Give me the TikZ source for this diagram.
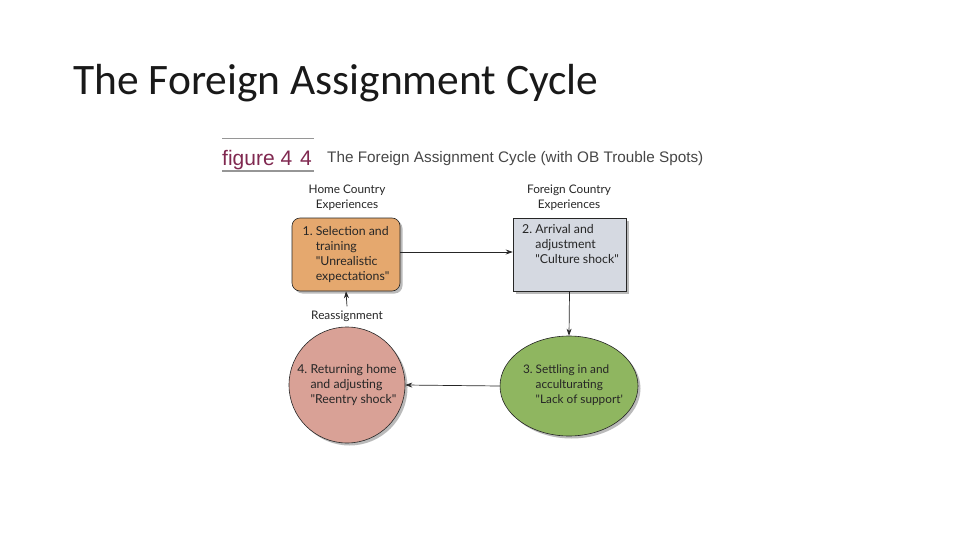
\documentclass[tikz,border=0pt]{standalone}
\usepackage{fontspec}
\setmainfont{Carlito}
\newfontfamily\figfont{Lato}
\newfontfamily\headfont{Liberation Sans}
\usetikzlibrary{arrows.meta,shapes.geometric,shadows}
\definecolor{boxorange}{RGB}{229,168,110}
\definecolor{boxgray}{RGB}{213,217,225}
\definecolor{ellgreen}{RGB}{143,182,96}
\definecolor{circpink}{RGB}{217,161,150}
\definecolor{figmaroon}{RGB}{128,40,80}
\definecolor{rulegray}{RGB}{150,150,150}
\definecolor{headgray}{RGB}{70,70,70}
\tikzset{
  shape base/.style={draw=black!85, line width=0.6pt,
    drop shadow={shadow xshift=2.5pt, shadow yshift=-2.5pt, opacity=0.45, fill=black!60},
    font=\figfont\fontsize{12.3}{15}\selectfont, text=black!85, inner sep=0pt},
  stagebox/.style={shape base, rectangle, minimum width=108pt, minimum height=73pt},
  stageell/.style={shape base, ellipse, minimum width=138pt, minimum height=100pt},
  stagecirc/.style={shape base, circle, minimum size=116pt},
  stagetext/.style={inner sep=0pt, font=\figfont\fontsize{12.3}{15}\selectfont, text=black!85},
  caption/.style={font=\figfont\fontsize{11.8}{15}\selectfont, text=black!85, align=center, inner sep=0pt},
  flow/.style={draw=black!85, line width=0.7pt, -{Stealth[length=7pt,width=5pt]}},
}
\begin{document}
\begin{tikzpicture}[x=1pt,y=-1pt]
\useasboundingbox (0,0) rectangle (960,540);
% slide title
\node[anchor=base west, inner sep=0pt, font=\fontsize{43.5}{50}\selectfont, text=black!90] (title) at (73,95) {The Foreign Assignment Cycle};
% figure header
\draw[rulegray, line width=1pt] (222,139) -- (314,139);
\draw[rulegray, line width=2pt] (222,171) -- (314,171);
\node[anchor=base west, inner sep=0pt, font=\headfont\fontsize{21}{24}\selectfont, text=figmaroon] (figlab) at (222,165) {figure 4\hspace{8pt}4};
\node[anchor=base west, inner sep=0pt, font=\headfont\fontsize{15.3}{18}\selectfont, text=headgray] (fighead) at (327,163) {The Foreign Assignment Cycle (with OB Trouble Spots)};
% column captions
\node[caption] (home) at (347,198) {Home Country\\Experiences};
\node[caption] (foreign) at (569,198) {Foreign Country\\Experiences};
% stages
\node[stagebox, rounded corners=8pt, fill=boxorange] (s1) at (346,254.5)
  {\begin{tabular}{@{}l@{\ }l@{}}1. & Selection and\\ & training\\ & "Unrealistic\\ & expectations"\end{tabular}};
\node[stagebox, fill=boxgray, minimum width=113pt] (s2) at (569.5,254.5) {};
\node[stagetext, anchor=north west] (s2text) at (522,223)
  {\begin{tabular}{@{}l@{\ }l@{}}2. & Arrival and\\ & adjustment\\ & "Culture shock"\end{tabular}};
\node[stageell, fill=ellgreen] (s3) at (569,386) {};
\node[stagetext, font=\figfont\fontsize{11.8}{15}\selectfont] (s3text) at (573,385)
  {\begin{tabular}{@{}l@{\ }l@{}}3. & Settling in and\\ & acculturating\\ & "Lack of support'\end{tabular}};
\node[stagecirc, fill=circpink] (s4) at (347,385) {};
\node[stagetext] (s4text) at (347,385)
  {\begin{tabular}{@{}l@{\ }l@{}}4. & Returning home\\ & and adjusting\\ & "Reentry shock"\end{tabular}};
\node[caption] (reassign) at (347,316) {Reassignment};
% connectors
\draw[flow] (s1.east |- 0,252) -- (s2.west |- 0,252);
\draw[flow] (s2.south) -- (s3.north);
\draw[flow] (s3.west) -- (s4.east);
\draw[flow] ([yshift=4pt]reassign.north) -- (s1.south);
\end{tikzpicture}
\end{document}
